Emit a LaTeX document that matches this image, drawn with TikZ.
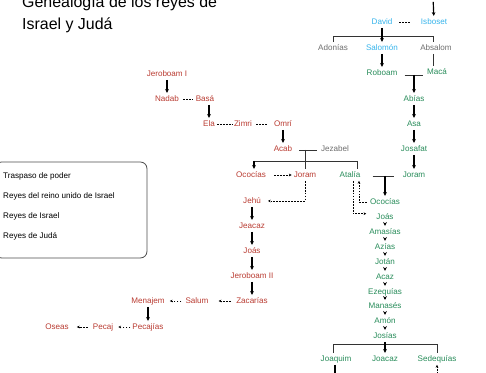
\documentclass[tikz,border=0pt]{standalone}
\usepackage{fontspec}
\setmainfont{Liberation Sans}
\usetikzlibrary{arrows.meta,calc}
\definecolor{israelred}{RGB}{185,60,50}
\definecolor{judagreen}{RGB}{40,140,90}
\definecolor{unidoblue}{RGB}{55,180,235}
\definecolor{othergray}{RGB}{110,110,110}
\tikzset{
  king/.style={font=\fontsize{6.9}{8}\selectfont, inner sep=0.6mm, text height=1.75mm, text depth=0.5mm},
  isr/.style={king, text=israelred},
  jud/.style={king, text=judagreen},
  uni/.style={king, text=unidoblue},
  oth/.style={king, text=othergray},
  legendtext/.style={font=\fontsize{6.9}{8}\selectfont, anchor=west, inner sep=0},
  son/.style={-{Stealth[length=1.2mm,width=1.1mm]}, line width=1pt},
  hand/.style={dash pattern=on 1.5pt off 1pt, line width=0.45pt, -{Stealth[length=0.8mm,width=0.8mm]}},
  pass/.style={dash pattern=on 1.5pt off 1pt, line width=0.45pt},
  fam/.style={line width=0.7pt, draw=black!80},
}
\begin{document}
\begin{tikzpicture}[x=0.3mm,y=-0.3mm]
  \useasboundingbox (0,0) rectangle (486,373);
  % title
  \node[font=\fontsize{13.6}{16}\selectfont, anchor=base west, inner sep=0] (title1) at (22,8) {Genealogía de los reyes de};
  \node[font=\fontsize{13.6}{16}\selectfont, anchor=base west, inner sep=0] (title2) at (22,30) {Israel y Judá};
  % legend
  \draw[draw=black!70, line width=0.7pt, rounded corners=2mm] (-5,162) rectangle (147,258);
  \node[legendtext] (lg1) at (3,176) {Traspaso de poder};
  \node[legendtext] (lg2) at (3,196) {Reyes del reino unido de Israel};
  \node[legendtext] (lg3) at (3,216) {Reyes de Israel};
  \node[legendtext] (lg4) at (3,236) {Reyes de Judá};
  % reino unido
  \node[uni] (Saul) at (433,-4) {Saúl};
  \node[uni] (Isboset) at (434,22) {Isboset};
  \node[uni] (David) at (382,22) {David};
  \node[oth] (Adonias) at (333,48) {Adonías};
  \node[uni] (Salomon) at (382,48) {Salomón};
  \node[oth] (Absalom) at (436,48) {Absalom};
  % Juda
  \node[jud] (Roboam) at (382,73) {Roboam};
  \node[jud] (Maca) at (437,72) {Macá};
  \node[jud] (Abias) at (414,99) {Abías};
  \node[jud] (Asa) at (414,124) {Asa};
  \node[jud] (Josafat) at (414,149) {Josafat};
  \node[jud] (JoramJ) at (414,175) {Joram};
  \node[jud] (AtaliaJ) at (350,175) {Atalía};
  \node[jud] (OcociasJ) at (385,202) {Ococías};
  \node[jud] (JoasJ) at (385,217) {Joás};
  \node[jud] (Amasias) at (385,232) {Amasías};
  \node[jud] (Azias) at (385,247) {Azías};
  \node[jud] (Jotan) at (385,262) {Jotán};
  \node[jud] (Acaz) at (385,277) {Acaz};
  \node[jud] (Ezequias) at (385,292) {Ezequías};
  \node[jud] (Manases) at (385,306) {Manasés};
  \node[jud] (Amon) at (385,321) {Amón};
  \node[jud] (Josias) at (385,336) {Josías};
  \node[jud] (Joaquim) at (336,359) {Joaquim};
  \node[jud] (Joacaz) at (385,359) {Joacaz};
  \node[jud] (Sedequias) at (437,359) {Sedequías};
  % Israel
  \node[isr] (Jeroboam1) at (167,74) {Jeroboam I};
  \node[isr] (Nadab) at (167,99) {Nadab};
  \node[isr] (Basa) at (205,99) {Basá};
  \node[isr] (Ela) at (209,124) {Ela};
  \node[isr] (Zimri) at (243,124) {Zimri};
  \node[isr] (Omri) at (283,124) {Omrí};
  \node[isr] (Acab) at (283,149) {Acab};
  \node[oth] (Jezabel) at (335,149) {Jezabel};
  \node[isr] (OcociasI) at (251,175) {Ococías};
  \node[isr] (JoramI) at (305,175) {Joram};
  \node[isr] (Jehu) at (252,201) {Jehú};
  \node[isr] (Jeacaz) at (252,226) {Jeacaz};
  \node[isr] (JoasI) at (252,251) {Joás};
  \node[isr] (Jeroboam2) at (252,276) {Jeroboam II};
  \node[isr] (Zacarias) at (252,301) {Zacarías};
  \node[isr] (Salum) at (197,301) {Salum};
  \node[isr] (Menajem) at (148,301) {Menajem};
  \node[isr] (Pecajias) at (148,327) {Pecajías};
  \node[isr] (Pecaj) at (103,327) {Pecaj};
  \node[isr] (Oseas) at (57,327) {Oseas};
  \coordinate (bD) at (433,36);
  \coordinate (brL) at (254,161);
  \coordinate (brR) at (357,161);
  \coordinate (bj1) at (333,344);
  \coordinate (bj2) at (437,344);
  \coordinate (offJoaquim) at (335,385);
  \coordinate (offSedequias) at (437,380);
  % reino unido
  \draw[son] (Saul) -- (Isboset);
  \draw[pass, shorten <=2.7mm, shorten >=1.2mm] (Isboset) -- (David);
  \draw[fam] (Adonias.north) |- (bD) -- (bD |- Absalom.north);
  \draw[son] (David) -- (Salomon);
  \draw[son] (Salomon) -- (Roboam);
  \draw[fam] (bD |- Absalom.south) -- (bD |- Maca.north);
  % Juda
  \draw[fam] ($(Roboam.east)+(5,2)$) coordinate (r1) -- ($(Maca.west)+(-2,3)$);
  \draw[son] (Abias |- r1) -- (Abias);
  \draw[son] (Abias) -- (Asa);
  \draw[son] (Asa) -- (Josafat);
  \draw[son] (Josafat) -- (JoramJ);
  \draw[fam] ($(AtaliaJ.east)+(10,1)$) coordinate (a1) -- ($(JoramJ.west)+(-7,1)$);
  \draw[son] (OcociasJ |- a1) -- (OcociasJ);
  \draw[hand, shorten <=0.3mm] (OcociasJ.west) -| ($(AtaliaJ.south)+(9,0)$);
  \draw[hand, shorten >=2.4mm] ($(AtaliaJ.south)+(3,0)$) |- ([yshift=1mm]JoasJ.west);
  \draw[son] (JoasJ) -- (Amasias);
  \draw[son] (Amasias) -- (Azias);
  \draw[son] (Azias) -- (Jotan);
  \draw[son] (Jotan) -- (Acaz);
  \draw[son] (Acaz) -- (Ezequias);
  \draw[son] (Ezequias) -- (Manases);
  \draw[son] (Manases) -- (Amon);
  \draw[son] (Amon) -- (Josias);
  \draw[fam] (bj1 |- Joaquim.north) -- (bj1) -- (bj2) -- (bj2 |- Sedequias.north);
  \draw[son] (Josias) -- (Joacaz);
  \draw[son] (Joaquim.south -| offJoaquim) -- (offJoaquim);
  \draw[hand] (offSedequias) -- (Sedequias);
  % Israel
  \draw[son] (Jeroboam1) -- (Nadab);
  \draw[pass, shorten <=0.6mm, shorten >=0.3mm] (Nadab) -- (Basa);
  \draw[son] (Ela |- Basa.south) -- (Ela);
  \draw[pass] (Ela) -- (Zimri);
  \draw[pass, shorten <=0.6mm, shorten >=1.2mm] (Zimri) -- (Omri);
  \draw[son] (Omri) -- (Acab);
  \draw[fam] ($(Acab.east)+(5,1)$) coordinate (m1) -- ($(Jezabel.west)+(-2,1)$);
  \draw[fam] (JoramI |- m1) -- (JoramI);
  \draw[fam] (brL) -- (brR);
  \draw[son] (brL) -- (brL |- OcociasI.north);
  \draw[fam] (brR) -- (brR |- AtaliaJ.north);
  \draw[hand, shorten <=1.8mm] (OcociasI) -- (JoramI);
  \draw[hand, shorten >=1.5mm] (JoramI) |- (Jehu);
  \draw[son] (Jehu) -- (Jeacaz);
  \draw[son] (Jeacaz) -- (JoasI);
  \draw[son] (JoasI) -- (Jeroboam2);
  \draw[son] (Jeroboam2) -- (Zacarias);
  \draw[hand, shorten <=0.9mm, shorten >=2.4mm] (Zacarias) -- (Salum);
  \draw[hand, shorten <=0.6mm, shorten >=0.9mm] (Salum) -- (Menajem);
  \draw[son] (Menajem) -- (Pecajias);
  \draw[hand, shorten >=0.9mm] (Pecajias) -- (Pecaj);
  \draw[hand, shorten <=0.9mm, shorten >=1.8mm] (Pecaj) -- (Oseas);
\end{tikzpicture}
\end{document}
